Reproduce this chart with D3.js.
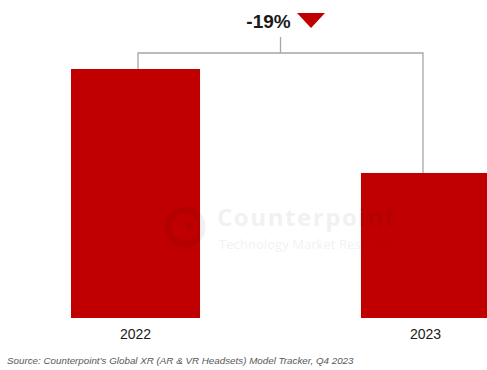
<!DOCTYPE html>
<html>
<head>
<meta charset="utf-8">
<script src="https://cdn.jsdelivr.net/npm/d3@7"></script>
<style>
  html, body { margin: 0; padding: 0; background: #ffffff; }
  svg { display: block; }
</style>
</head>
<body>
<div id="chart"></div>
<script>
// Annual XR headset shipments, indexed to 2022 = 100
const years = ["2022", "2023"];
const shipmentIndex = [100, 81];
const sourceNote = "Source: Counterpoint\u2019s Global XR (AR & VR Headsets) Model Tracker, Q4 2023";

const W = 487, H = 370;
const svg = d3.select("#chart").append("svg")
  .attr("width", W).attr("height", H);

const x = d3.scaleBand()
  .domain(years)
  .range([71, 490])
  .paddingInner(0.555)
  .paddingOuter(0);

// value axis is truncated so the year-on-year gap reads clearly
const y = d3.scaleLinear()
  .domain([54.5, 100])
  .range([318, 69]);

const red = "#c00000";
const font = "'Liberation Sans', Arial, sans-serif";

// bars
svg.append("g").selectAll("rect")
  .data(years)
  .join("rect")
  .attr("x", d => x(d))
  .attr("y", (d, i) => y(shipmentIndex[i]))
  .attr("width", x.bandwidth())
  .attr("height", (d, i) => y(y.domain()[0]) - y(shipmentIndex[i]))
  .attr("fill", red);

// watermark
const wm = svg.append("g").attr("fill", "#000").attr("opacity", 0.05);
wm.append("circle").attr("cx", 185).attr("cy", 227).attr("r", 17)
  .attr("fill", "none").attr("stroke", "#000").attr("stroke-width", 7);
wm.append("circle").attr("cx", 189).attr("cy", 225).attr("r", 4);
wm.append("text").attr("x", 217).attr("y", 226)
  .attr("font-family", "'Open Sans', sans-serif").attr("font-weight", 700)
  .attr("font-size", 24).attr("textLength", 178).text("Counterpoint");
wm.append("text").attr("x", 219).attr("y", 249)
  .attr("font-family", "'Open Sans', sans-serif")
  .attr("font-size", 13).attr("textLength", 176).text("Technology Market Research");

// change bracket
const cx0 = x("2022") + x.bandwidth() / 2 + 2.5;
const cx1 = x("2023") + x.bandwidth() / 2 - 2.5;
const bracketY = 53;
const mid = (cx0 + cx1) / 2;
const bracket = svg.append("g").attr("stroke", "#a6a6a6").attr("stroke-width", 1.3).attr("fill", "none");
bracket.append("path")
  .attr("d", `M${cx0},${y(shipmentIndex[0])}V${bracketY}H${cx1}V${y(shipmentIndex[1])}`);
bracket.append("line")
  .attr("x1", mid).attr("x2", mid).attr("y1", 37).attr("y2", bracketY);

const change = Math.round((shipmentIndex[1] / shipmentIndex[0] - 1) * 100);
svg.append("text")
  .attr("x", mid - 12).attr("y", 28)
  .attr("text-anchor", "middle")
  .attr("font-family", font).attr("font-weight", 700)
  .attr("font-size", 19).attr("fill", "#1a1a1a")
  .text(`${change}%`);
svg.append("path")
  .attr("d", `M297,13H325L311,28Z`)
  .attr("fill", red);

// year labels
svg.append("g").selectAll("text")
  .data(years)
  .join("text")
  .attr("x", d => x(d) + x.bandwidth() / 2)
  .attr("y", 339)
  .attr("text-anchor", "middle")
  .attr("font-family", font).attr("font-size", 14).attr("fill", "#1a1a1a")
  .text(d => d);

// source note
svg.append("text")
  .attr("x", 7).attr("y", 364)
  .attr("font-family", font).attr("font-style", "italic")
  .attr("font-size", 9.8).attr("fill", "#595959")
  .text(sourceNote);
</script>
</body>
</html>
